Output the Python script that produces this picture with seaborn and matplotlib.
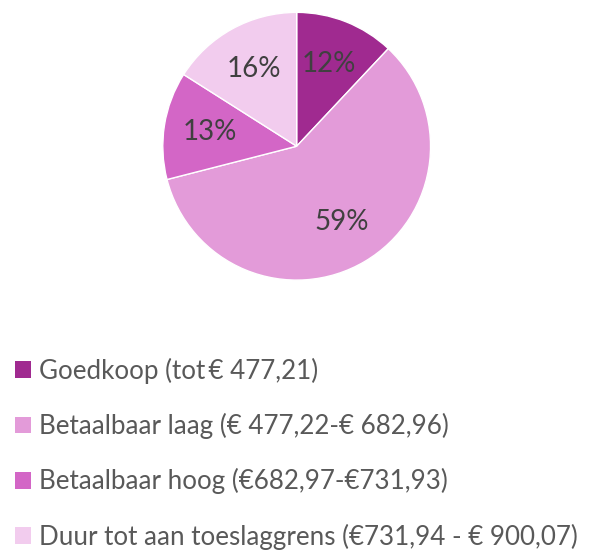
import matplotlib.pyplot as plt
import seaborn as sns
from matplotlib.patches import Patch

categories = ["Goedkoop (tot\u2009€ 477,21)",
              "Betaalbaar laag (€ 477,22-€ 682,96)",
              "Betaalbaar hoog (€682,97-€731,93)",
              "Duur tot aan toeslaggrens (€731,94 - € 900,07)"]
shares = [12, 59, 13, 16]
colors = ["#A02A90", "#E39BD9", "#D366C6", "#F2CCEE"]

sns.set_theme(style="white")
plt.rcParams['font.family'] = ['Lato', 'DejaVu Sans']
palette = sns.color_palette(colors)

fig = plt.figure(figsize=(6.03, 5.56), dpi=100)
ax = fig.add_axes([0.270, 0.496, 0.444, 0.482])
wedges, texts, autotexts = ax.pie(shares, colors=palette, startangle=90, counterclock=False,
                                  autopct=lambda p: f"{p:.0f}%", pctdistance=0.66,
                                  wedgeprops=dict(edgecolor="white", linewidth=1),
                                  textprops=dict(color="#404040", fontsize=20))
ax.set_xlim(-1, 1)
ax.set_ylim(-1, 1)
ax.set_aspect("equal")

handles = [Patch(facecolor=c, edgecolor="none") for c in palette]
fig.legend(handles, categories, loc="upper left", bbox_to_anchor=(0.008, 0.375),
           frameon=False, fontsize=18.7, labelcolor="#595959",
           handlelength=0.62, handleheight=0.62, handletextpad=0.28,
           labelspacing=1.12, borderaxespad=0)

fig.savefig("out.png", dpi=100, facecolor="white")
